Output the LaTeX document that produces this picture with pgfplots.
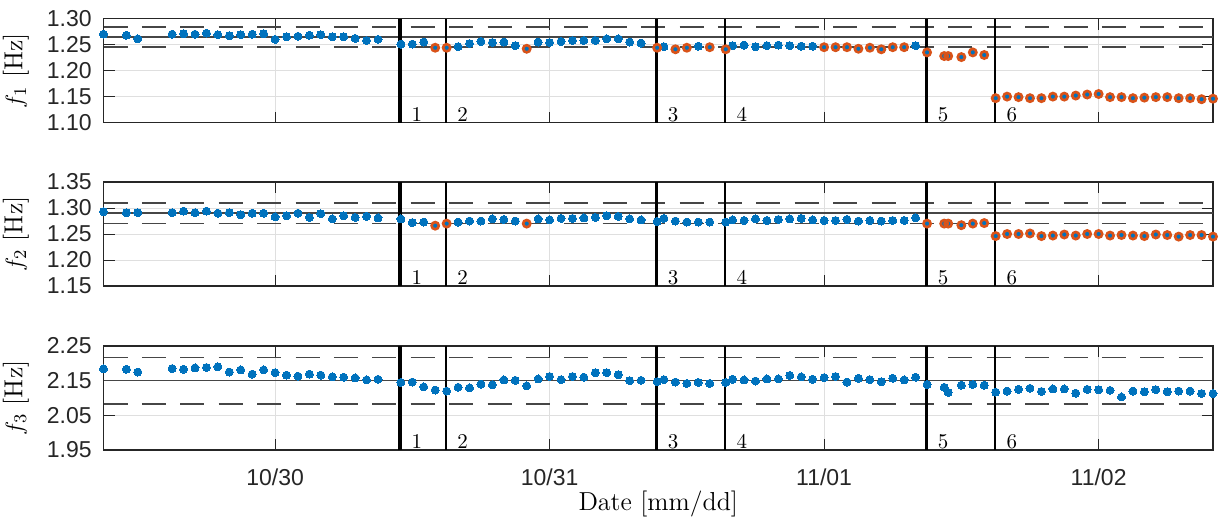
\documentclass[border=0pt]{standalone}
\usepackage{fontspec}
\usepackage{pgfplots}
\usepackage{pgfplotstable}
\pgfplotsset{compat=1.18}
\newfontfamily\arial{Liberation Sans}

\definecolor{mblue}{RGB}{0,114,189}
\definecolor{morange}{RGB}{217,83,25}
\definecolor{axcol}{RGB}{38,38,38}
\definecolor{gridcol}{RGB}{223,223,223}
\definecolor{refcol}{RGB}{70,70,70}

% x = hours since 10/29 09:00
\pgfplotstableread{
h f
0 1.270
2 1.268
3 1.261
6 1.270
7 1.271
8 1.270
9 1.272
10 1.269
11 1.267
12 1.269
13 1.270
14 1.271
15 1.260
16 1.265
17 1.266
18 1.268
19 1.269
20 1.265
21 1.265
22 1.262
23 1.258
24 1.260
26 1.251
27 1.251
28 1.255
29 1.244
30 1.244
31 1.246
32 1.252
33 1.256
34 1.254
35 1.255
36 1.248
37 1.242
38 1.255
39 1.254
40 1.256
41 1.258
42 1.258
43 1.258
44 1.261
45 1.261
46 1.255
47 1.253
48.4 1.244
49 1.246
50 1.241
51 1.244
52 1.247
53 1.245
54.4 1.241
55 1.248
56 1.249
57 1.246
58 1.248
59 1.249
60 1.248
61 1.247
62 1.247
63 1.245
64 1.245
65 1.245
66 1.242
67 1.244
68 1.241
69 1.245
70 1.245
71 1.248
72 1.235
73.5 1.228
73.85 1.228
75 1.226
76 1.235
77 1.230
78 1.147
79 1.150
80 1.149
81 1.147
82 1.147
83 1.150
84 1.150
85 1.152
86 1.154
87 1.155
88 1.149
89 1.149
90 1.147
91 1.148
92 1.149
93 1.149
94 1.147
95 1.147
96 1.145
97 1.146
}\fone

\pgfplotstableread{
h f
29 1.244
30 1.244
37 1.242
48.4 1.244
50 1.241
51 1.244
53 1.245
54.4 1.241
63 1.245
64 1.245
65 1.245
66 1.242
67 1.244
68 1.241
69 1.245
70 1.245
72 1.235
73.5 1.228
73.85 1.228
75 1.226
76 1.235
77 1.230
78 1.147
79 1.150
80 1.149
81 1.147
82 1.147
83 1.150
84 1.150
85 1.152
86 1.154
87 1.155
88 1.149
89 1.149
90 1.147
91 1.148
92 1.149
93 1.149
94 1.147
95 1.147
96 1.145
97 1.146
}\foneo

\pgfplotstableread{
h f
0 1.293
2 1.291
3 1.291
6 1.291
7 1.294
8 1.291
9 1.294
10 1.290
11 1.291
12 1.287
13 1.290
14 1.290
15 1.283
16 1.285
17 1.290
18 1.282
19 1.289
20 1.279
21 1.285
22 1.282
23 1.284
24 1.281
26 1.279
27 1.272
28 1.273
29 1.266
30 1.270
31 1.273
32 1.275
33 1.275
34 1.279
35 1.278
36 1.275
37 1.270
38 1.279
39 1.277
40 1.280
41 1.280
42 1.281
43 1.282
44 1.285
45 1.284
46 1.279
47 1.277
48.4 1.274
49 1.280
50 1.275
51 1.273
52 1.273
53 1.273
54.4 1.273
55 1.277
56 1.276
57 1.279
58 1.276
59 1.278
60 1.279
61 1.280
62 1.277
63 1.276
64 1.276
65 1.278
66 1.275
67 1.276
68 1.275
69 1.276
70 1.276
71 1.281
72 1.270
73.5 1.270
73.85 1.270
75 1.267
76 1.270
77 1.271
78 1.246
79 1.250
80 1.250
81 1.251
82 1.246
83 1.247
84 1.249
85 1.247
86 1.250
87 1.250
88 1.247
89 1.248
90 1.247
91 1.246
92 1.249
93 1.248
94 1.245
95 1.248
96 1.248
97 1.245
}\ftwo

\pgfplotstableread{
h f
29 1.266
30 1.270
37 1.270
72 1.270
73.5 1.270
73.85 1.270
75 1.267
76 1.270
77 1.271
78 1.246
79 1.250
80 1.250
81 1.251
82 1.246
83 1.247
84 1.249
85 1.247
86 1.250
87 1.250
88 1.247
89 1.248
90 1.247
91 1.246
92 1.249
93 1.248
94 1.245
95 1.248
96 1.248
97 1.245
}\ftwoo

\pgfplotstableread{
h f
0 2.184
2 2.183
3 2.175
6 2.185
7 2.183
8 2.187
9 2.188
10 2.190
11 2.175
12 2.181
13 2.169
14 2.181
15 2.173
16 2.166
17 2.163
18 2.169
19 2.166
20 2.161
21 2.160
22 2.158
23 2.152
24 2.154
26 2.145
27 2.146
28 2.132
29 2.123
30 2.120
31 2.131
32 2.129
33 2.140
34 2.138
35 2.152
36 2.151
37 2.135
38 2.155
39 2.162
40 2.153
41 2.162
42 2.160
43 2.173
44 2.173
45 2.167
46 2.150
47 2.151
48.4 2.147
49 2.153
50 2.146
51 2.142
52 2.145
53 2.142
54.4 2.145
55 2.154
56 2.152
57 2.149
58 2.155
59 2.155
60 2.165
61 2.161
62 2.154
63 2.159
64 2.162
65 2.146
66 2.157
67 2.153
68 2.147
69 2.157
70 2.152
71 2.160
72 2.139
73.5 2.131
73.85 2.116
75 2.137
76 2.139
77 2.137
78 2.117
79 2.120
80 2.125
81 2.128
82 2.119
83 2.126
84 2.126
85 2.114
86 2.125
87 2.124
88 2.122
89 2.103
90 2.120
91 2.118
92 2.124
93 2.118
94 2.120
95 2.120
96 2.113
97 2.113
}\fthree

\pgfplotsset{
  panel/.style={
    scale only axis, width=554.75pt, height=52pt,
    anchor=south west,
    xmin=0, xmax=97,
    xtick={15,39,63,87},
    xticklabels={},
    grid=major,
    major grid style={gridcol, line width=0.5pt},
    tick align=inside,
    major tick length=5.5pt,
    tick style={axcol, line width=0.5pt},
    axis line style={axcol, line width=0.6pt},
    ticklabel style={font=\arial\fontsize{11.5}{13}\selectfont, text=axcol},
    yticklabel style={xshift=-2.4pt},
    xticklabel style={yshift=-6pt},
    every axis y label/.style={at={(axis description cs:-0.0789,0.5)}, rotate=90, anchor=center},
    every axis x label/.style={at={(axis description cs:0.5,-0.584)}, anchor=base},
    label style={font=\fontsize{13}{15}\selectfont},
  },
  blue dots/.style={only marks, color=mblue, mark=*, mark size=2pt,
    mark options={draw=mblue, fill=mblue, line width=0pt}},
  orange rings/.style={only marks, color=morange, mark=o, mark size=1.8pt,
    mark options={draw=morange, line width=1.3pt}},
  ref/.style={refcol, line width=0.8pt},
  refd/.style={refcol, line width=0.8pt, dash pattern=on 12pt off 7.2pt},
  ev/.style={black, line width=1.1pt},
  evthick/.style={black, line width=2pt},
}
\tikzset{
  evlab/.style={font=\fontsize{10.5}{12}\selectfont, anchor=base west, inner sep=0pt, xshift=5.5pt, yshift=0.8pt},
}

\begin{document}
\begin{tikzpicture}
\path[use as bounding box] (0,0) rectangle (609.5pt,260.5pt);

% f1
\begin{axis}[panel, at={(51.75pt,199.2pt)},
  ymin=1.10, ymax=1.30,
  ytick={1.10,1.15,1.20,1.25,1.30},
  yticklabels={1.10,1.15,1.20,1.25,1.30},
  ylabel={$f_1$ [Hz]}]
\addplot[refd] coordinates {(0,1.2840) (97,1.2840)};
\addplot[ref]  coordinates {(0,1.2645) (97,1.2645)};
\addplot[refd] coordinates {(0,1.2455) (97,1.2455)};
\addplot[evthick] coordinates {(25.95,1.10) (25.95,1.30)};
\addplot[ev] coordinates {(29.95,1.10) (29.95,1.30)};
\addplot[ev] coordinates {(48.35,1.10) (48.35,1.30)};
\addplot[ev] coordinates {(54.35,1.10) (54.35,1.30)};
\addplot[ev] coordinates {(71.95,1.10) (71.95,1.30)};
\addplot[ev] coordinates {(77.95,1.10) (77.95,1.30)};
\addplot[blue dots] table[x=h, y=f] {\fone};
\addplot[orange rings] table[x=h, y=f] {\foneo};
\node[evlab] at (axis cs:25.95,1.10) {1};
\node[evlab] at (axis cs:29.95,1.10) {2};
\node[evlab] at (axis cs:48.35,1.10) {3};
\node[evlab] at (axis cs:54.35,1.10) {4};
\node[evlab] at (axis cs:71.95,1.10) {5};
\node[evlab] at (axis cs:77.95,1.10) {6};
\end{axis}

% f2
\begin{axis}[panel, at={(51.75pt,117.5pt)},
  ymin=1.15, ymax=1.35,
  ytick={1.15,1.20,1.25,1.30,1.35},
  yticklabels={1.15,1.20,1.25,1.30,1.35},
  ylabel={$f_2$ [Hz]}]
\addplot[refd] coordinates {(0,1.3095) (97,1.3095)};
\addplot[ref]  coordinates {(0,1.2900) (97,1.2900)};
\addplot[refd] coordinates {(0,1.2705) (97,1.2705)};
\addplot[evthick] coordinates {(25.95,1.15) (25.95,1.35)};
\addplot[ev] coordinates {(29.95,1.15) (29.95,1.35)};
\addplot[ev] coordinates {(48.35,1.15) (48.35,1.35)};
\addplot[ev] coordinates {(54.35,1.15) (54.35,1.35)};
\addplot[ev] coordinates {(71.95,1.15) (71.95,1.35)};
\addplot[ev] coordinates {(77.95,1.15) (77.95,1.35)};
\addplot[blue dots] table[x=h, y=f] {\ftwo};
\addplot[orange rings] table[x=h, y=f] {\ftwoo};
\node[evlab] at (axis cs:25.95,1.15) {1};
\node[evlab] at (axis cs:29.95,1.15) {2};
\node[evlab] at (axis cs:48.35,1.15) {3};
\node[evlab] at (axis cs:54.35,1.15) {4};
\node[evlab] at (axis cs:71.95,1.15) {5};
\node[evlab] at (axis cs:77.95,1.15) {6};
\end{axis}

% f3
\begin{axis}[panel, at={(51.75pt,35.5pt)},
  ymin=1.95, ymax=2.25,
  ytick={1.95,2.05,2.15,2.25},
  yticklabels={1.95,2.05,2.15,2.25},
  xticklabels={10/30,10/31,11/01,11/02},
  ylabel={$f_3$ [Hz]},
  xlabel={Date [mm/dd]}]
\addplot[refd] coordinates {(0,2.2165) (97,2.2165)};
\addplot[ref]  coordinates {(0,2.1500) (97,2.1500)};
\addplot[refd] coordinates {(0,2.0830) (97,2.0830)};
\addplot[evthick] coordinates {(25.95,1.95) (25.95,2.25)};
\addplot[ev] coordinates {(29.95,1.95) (29.95,2.25)};
\addplot[ev] coordinates {(48.35,1.95) (48.35,2.25)};
\addplot[ev] coordinates {(54.35,1.95) (54.35,2.25)};
\addplot[ev] coordinates {(71.95,1.95) (71.95,2.25)};
\addplot[ev] coordinates {(77.95,1.95) (77.95,2.25)};
\addplot[blue dots] table[x=h, y=f] {\fthree};
\node[evlab] at (axis cs:25.95,1.95) {1};
\node[evlab] at (axis cs:29.95,1.95) {2};
\node[evlab] at (axis cs:48.35,1.95) {3};
\node[evlab] at (axis cs:54.35,1.95) {4};
\node[evlab] at (axis cs:71.95,1.95) {5};
\node[evlab] at (axis cs:77.95,1.95) {6};
\end{axis}
\end{tikzpicture}
\end{document}
